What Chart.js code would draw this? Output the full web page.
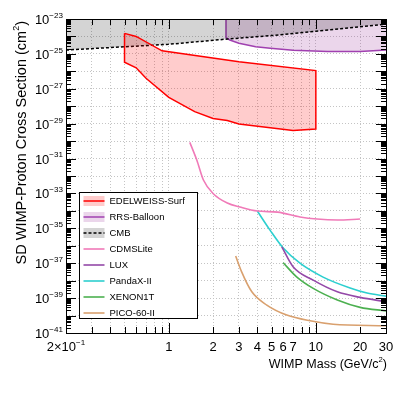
<!DOCTYPE html>
<html>
<head>
<meta charset="utf-8">
<script src="https://cdn.jsdelivr.net/npm/chart.js@4.4.1/dist/chart.umd.min.js"></script>
<style>
  html, body { margin: 0; padding: 0; background: #fff; }
  #wrap { width: 407px; height: 397px; }
</style>
</head>
<body>
<div id="wrap"><canvas id="chartLimites" width="407" height="397"></canvas></div>
<script>
// Dados (massa em GeV/c², seção de choque em cm²)
const edelweissMass  = [0.5, 0.6, 0.9, 3.0, 10, 10, 7, 3.0, 2.5, 2.0, 1.5, 1.0, 0.7, 0.6, 0.5, 0.5];
const edelweissSigma = [1.5e-24, 1.0e-24, 1.5e-25, 3.5e-26, 1.1e-26, 4.9e-30, 4.0e-30, 9.5e-30, 1.5e-29, 2.0e-29, 4.9e-29, 3.2e-28, 4.0e-27, 1.6e-26, 3.3e-26, 1.5e-24];

const rrsMass  = [2.45, 2.45, 2.6, 3.0, 3.9, 4.9, 7, 12, 20, 30];
const rrsSigma = [1e-23, 8.5e-25, 6.3e-25, 4.1e-25, 2.6e-25, 2.1e-25, 1.6e-25, 1.35e-25, 1.35e-25, 1.66e-25];

const cmbMass  = [0.2, 1, 2.5, 5, 10, 30];
const cmbSigma = [1.66e-25, 3.55e-25, 7.1e-25, 1.12e-24, 2.0e-24, 5.1e-24];

const cdmsMass  = [1.39, 1.55, 1.72, 2.0, 2.5, 3.05, 4.0, 5.5, 7.8, 10.2, 14, 20];
const cdmsSigma = [8.5e-31, 8.3e-32, 5.9e-33, 1.0e-33, 2.8e-34, 1.66e-34, 9.8e-35, 8.5e-35, 4.5e-35, 3.4e-35, 3.0e-35, 3.4e-35];

const luxMass  = [5.87, 7.0, 9.6, 14, 20, 30];
const luxSigma = [8.7e-37, 6.3e-38, 1.07e-38, 2.3e-39, 1.1e-39, 6.2e-40];

const pandaxMass  = [4.0, 4.88, 6.0, 7.8, 11.2, 17.1, 22.3, 30];
const pandaxSigma = [9.8e-35, 7.9e-36, 7.4e-37, 1.0e-37, 1.6e-38, 3.8e-39, 1.95e-39, 1.3e-39];

const xenonMass  = [6.0, 7.4, 9.6, 14, 20, 30];
const xenonSigma = [1.07e-37, 1.66e-38, 3.6e-39, 7.8e-40, 2.95e-40, 1.86e-40];

const picoMass  = [2.85, 3.13, 3.67, 4.64, 6.34, 9.14, 13.1, 30];
const picoSigma = [2.6e-37, 3.2e-38, 2.3e-39, 4.0e-40, 1.07e-40, 5.0e-41, 3.2e-41, 2.6e-41];

// Eixos
const xTickValues = [0.2, 0.3, 0.4, 0.5, 0.6, 0.7, 0.8, 0.9, 1, 2, 3, 4, 5, 6, 7, 8, 9, 10, 20, 30];
const xMajorValues = [1, 10];
const xLabelValues = [0.2, 1, 2, 3, 4, 5, 6, 7, 10, 20, 30];
const xLabelTexts  = ['2×10^{−1}', '1', '2', '3', '4', '5', '6', '7', '10', '20', '30'];
const yLabelValues = [1e-41, 1e-39, 1e-37, 1e-35, 1e-33, 1e-31, 1e-29, 1e-27, 1e-25, 1e-23];
const yLabelTexts  = ['10^{−41}', '10^{−39}', '10^{−37}', '10^{−35}', '10^{−33}', '10^{−31}', '10^{−29}', '10^{−27}', '10^{−25}', '10^{−23}'];
const xTitle = 'WIMP Mass (GeV/c^{2})';
const yTitle = 'SD WIMP-Proton Cross Section (cm^{2})';

const FONTE = '"Liberation Sans", Arial, sans-serif';

function pontos(xs, ys) {
    return xs.map((x, i) => ({ x: x, y: ys[i] }));
}

// décadas do eixo y (grade e ticks maiores)
const yDecadas = [];
for (let e = -41; e <= -23; e++) yDecadas.push(Math.pow(10, e));

// Texto com expoente: "10^{−23}"
function partesTexto(txt) {
    const partes = [];
    const re = /\^\{([^}]*)\}/g;
    let ultimo = 0, m;
    while ((m = re.exec(txt))) {
        if (m.index > ultimo) partes.push({ t: txt.slice(ultimo, m.index), sup: false });
        partes.push({ t: m[1], sup: true });
        ultimo = re.lastIndex;
    }
    if (ultimo < txt.length) partes.push({ t: txt.slice(ultimo), sup: false });
    return partes;
}

function textoRico(ctx, txt, x, y, align, size) {
    const supSize = size * 0.62;
    const partes = partesTexto(txt);
    const fontes = partes.map(p => `${p.sup ? supSize : size}px ${FONTE}`);
    const larguras = partes.map((p, i) => { ctx.font = fontes[i]; return ctx.measureText(p.t).width; });
    const total = larguras.reduce((a, b) => a + b, 0);
    let cx = align === 'right' ? x - total : align === 'center' ? x - total / 2 : x;
    ctx.textAlign = 'left';
    ctx.textBaseline = 'alphabetic';
    partes.forEach((p, i) => {
        ctx.font = fontes[i];
        ctx.fillText(p.t, cx, p.sup ? y - size * 0.47 : y);
        cx += larguras[i];
    });
}

// Moldura, ticks, rótulos e legenda no estilo ROOT
const molduraRoot = {
    id: 'molduraRoot',
    afterDraw(chart) {
        const ctx = chart.ctx;
        const { left, right, top, bottom } = chart.chartArea;
        const xs = chart.scales.x, ys = chart.scales.y;
        ctx.save();
        ctx.strokeStyle = '#000';
        ctx.fillStyle = '#000';
        ctx.lineWidth = 1;

        // ticks x (baixo e cima)
        ctx.beginPath();
        xTickValues.forEach(v => {
            const px = Math.round(xs.getPixelForValue(v)) + 0.5;
            const len = xMajorValues.includes(v) ? 10 : 6;
            ctx.moveTo(px, bottom); ctx.lineTo(px, bottom - len);
            ctx.moveTo(px, top); ctx.lineTo(px, top + len);
        });
        // ticks y (esquerda e direita)
        yDecadas.forEach((d, i) => {
            const py = Math.round(ys.getPixelForValue(d)) + 0.5;
            ctx.moveTo(left, py); ctx.lineTo(left + 10, py);
            ctx.moveTo(right, py); ctx.lineTo(right - 10, py);
            if (i < yDecadas.length - 1) {
                for (let k = 2; k <= 9; k++) {
                    const pm = Math.round(ys.getPixelForValue(k * d)) + 0.5;
                    ctx.moveTo(left, pm); ctx.lineTo(left + 5, pm);
                    ctx.moveTo(right, pm); ctx.lineTo(right - 5, pm);
                }
            }
        });
        ctx.stroke();
        ctx.strokeRect(Math.round(left) + 0.5, Math.round(top) + 0.5, Math.round(right - left), Math.round(bottom - top));

        // rótulos
        xLabelValues.forEach((v, i) => {
            textoRico(ctx, xLabelTexts[i], xs.getPixelForValue(v), bottom + 18, 'center', 13);
        });
        yLabelValues.forEach((v, i) => {
            textoRico(ctx, yLabelTexts[i], left - 3, ys.getPixelForValue(v) + 5, 'right', 13);
        });

        // títulos dos eixos
        textoRico(ctx, xTitle, right + 1, bottom + 35, 'right', 12.5);
        ctx.save();
        ctx.translate(25.5, top + 2);
        ctx.rotate(-Math.PI / 2);
        textoRico(ctx, yTitle, 0, 0, 'right', 14.5);
        ctx.restore();

        // legenda
        const lx = 79.5, ly = 192.5, lw = 118, lh = 126;
        ctx.fillStyle = '#fff';
        ctx.fillRect(lx, ly, lw, lh);
        ctx.strokeStyle = '#000';
        ctx.strokeRect(lx, ly, lw, lh);
        chart.data.datasets.forEach((ds, i) => {
            const cy = ly + 8.5 + i * 16;
            if (ds.fill) {
                ctx.fillStyle = ds.backgroundColor;
                ctx.fillRect(lx + 4, cy - 5, 21, 10);
            }
            ctx.beginPath();
            ctx.setLineDash(ds.borderDash || []);
            ctx.strokeStyle = ds.borderColor;
            ctx.lineWidth = ds.borderWidth;
            ctx.moveTo(lx + 4, cy); ctx.lineTo(lx + 25, cy);
            ctx.stroke();
            ctx.setLineDash([]);
            ctx.fillStyle = '#000';
            ctx.font = `9.5px ${FONTE}`;
            ctx.textAlign = 'left';
            ctx.textBaseline = 'middle';
            ctx.fillText(ds.label, lx + 30, cy + 0.5);
        });
        ctx.restore();
    }
};

const ctx = document.getElementById('chartLimites').getContext('2d');

new Chart(ctx, {
    type: 'line',
    data: {
        datasets: [
            { label: 'EDELWEISS-Surf', data: pontos(edelweissMass, edelweissSigma), borderColor: '#ff0000', backgroundColor: 'rgba(255,0,0,0.2)', borderWidth: 1.5, fill: 'shape', order: 1 },
            { label: 'RRS-Balloon', data: pontos(rrsMass, rrsSigma), borderColor: '#a040b0', backgroundColor: 'rgba(153,51,153,0.2)', borderWidth: 1.5, fill: 'end', order: 3 },
            { label: 'CMB', data: pontos(cmbMass, cmbSigma), borderColor: '#000', backgroundColor: 'rgba(0,0,0,0.17)', borderWidth: 1.5, borderDash: [3, 2], fill: 'end', order: 2 },
            // curvas suaves para os limites experimentais
            { label: 'CDMSLite', data: pontos(cdmsMass, cdmsSigma), borderColor: '#f07ab8', borderWidth: 1.6, fill: false, cubicInterpolationMode: 'monotone', order: 0 },
            { label: 'LUX', data: pontos(luxMass, luxSigma), borderColor: '#9448a8', borderWidth: 1.6, fill: false, cubicInterpolationMode: 'monotone', order: 0 },
            { label: 'PandaX-II', data: pontos(pandaxMass, pandaxSigma), borderColor: '#2ccfcf', borderWidth: 1.6, fill: false, cubicInterpolationMode: 'monotone', order: 0 },
            { label: 'XENON1T', data: pontos(xenonMass, xenonSigma), borderColor: '#4cb050', borderWidth: 1.6, fill: false, cubicInterpolationMode: 'monotone', order: 0 },
            { label: 'PICO-60-II', data: pontos(picoMass, picoSigma), borderColor: '#d9a06e', borderWidth: 1.6, fill: false, cubicInterpolationMode: 'monotone', order: 0 }
        ]
    },
    options: {
        responsive: false,
        animation: false,
        devicePixelRatio: 1,
        layout: { padding: { left: 66, top: 19, right: 21, bottom: 64 } },
        plugins: { legend: { display: false }, tooltip: { enabled: false } },
        elements: { point: { radius: 0 }, line: { tension: 0 } },
        scales: {
            x: {
                type: 'logarithmic', min: 0.2, max: 30,
                afterBuildTicks: s => { s.ticks = xTickValues.map(v => ({ value: v })); },
                afterFit: s => { s.height = 0; },
                ticks: { display: false },
                grid: { color: '#c4c4c4', drawTicks: false },
                border: { display: false, dash: [1, 2] }
            },
            y: {
                type: 'logarithmic', min: 1e-41, max: 1e-23,
                afterBuildTicks: s => { s.ticks = yDecadas.map(v => ({ value: v })); },
                afterFit: s => { s.width = 0; },
                ticks: { display: false },
                grid: { color: '#c4c4c4', drawTicks: false },
                border: { display: false, dash: [1, 2] }
            }
        }
    },
    plugins: [molduraRoot]
});
</script>
</body>
</html>
